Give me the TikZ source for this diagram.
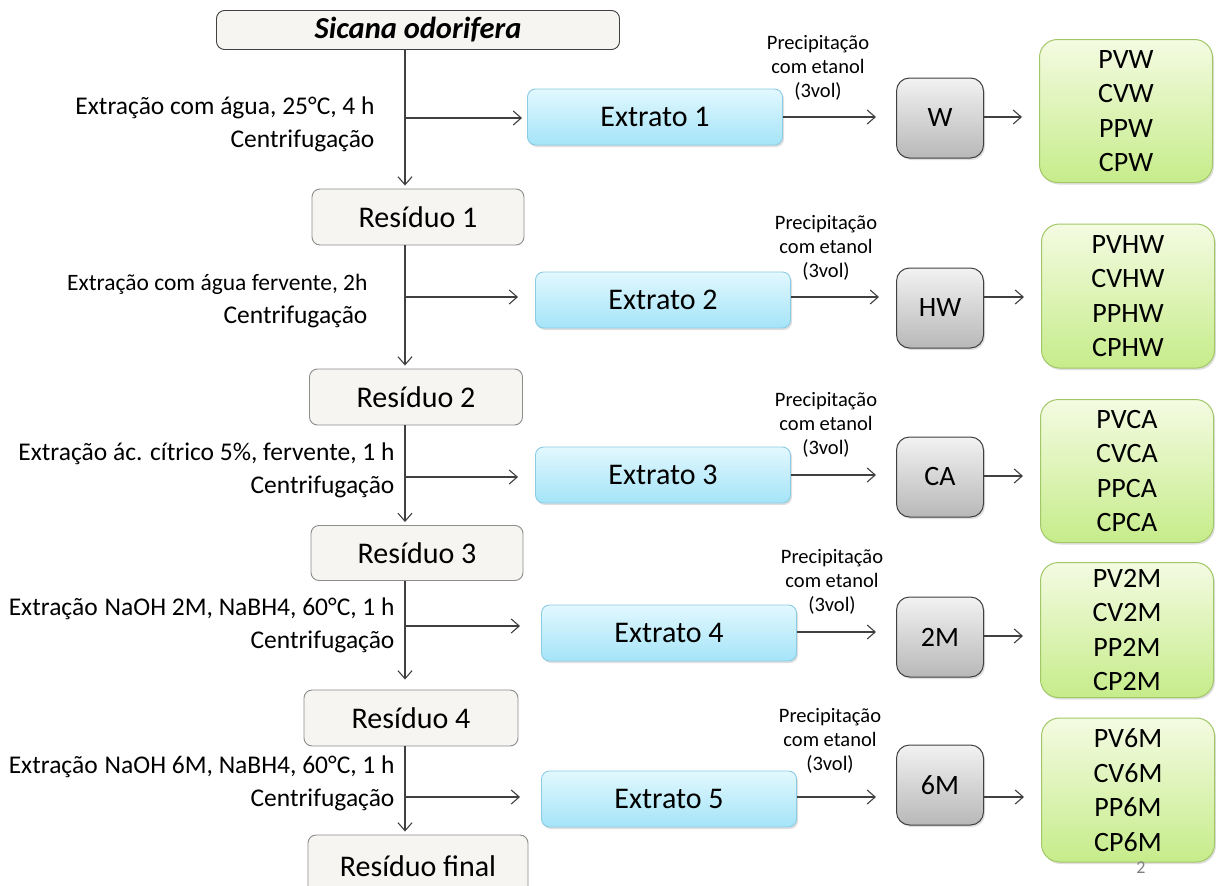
\documentclass[tikz,border=0pt]{standalone}
\usepackage{fontspec}
\setmainfont{Carlito}
\usepackage{tikz}
\usetikzlibrary{arrows.meta,shadows}

\definecolor{linha}{HTML}{404040}
\definecolor{fundores}{HTML}{F6F5F1}
\definecolor{bordares}{HTML}{8C8C8C}
\definecolor{azulcima}{HTML}{E2F8FE}
\definecolor{azulbaixo}{HTML}{A4E4F8}
\definecolor{azulborda}{HTML}{8CCBE4}
\definecolor{cinzacima}{HTML}{F2F2F2}
\definecolor{cinzabaixo}{HTML}{B8B8B8}
\definecolor{verdecima}{HTML}{F4FBE2}
\definecolor{verdebaixo}{HTML}{C6EC8A}
\definecolor{verdeborda}{HTML}{A2C766}

\begin{document}
\begin{tikzpicture}[x=1pt, y=-1pt, line width=1.1pt]
\tikzstyle{every node}=[inner sep=0pt, text=black]
\tikzstyle{seta}=[draw=linha, -{Straight Barb[length=8pt,width=14pt]}]
\tikzstyle{sombra}=[drop shadow={shadow xshift=1.5pt, shadow yshift=-2pt, opacity=.25}]
\tikzstyle{residuo}=[draw=bordares, fill=fundores, rounded corners=8pt, line width=.9pt, font=\fontsize{30}{36}\selectfont]
\tikzstyle{extrato}=[sombra, draw=azulborda, top color=azulcima, bottom color=azulbaixo, rounded corners=8pt, line width=.9pt, minimum width=255pt, minimum height=56pt, font=\fontsize{30}{36}\selectfont]
\tikzstyle{fracao}=[sombra, draw=linha, top color=cinzacima, bottom color=cinzabaixo, rounded corners=13pt, line width=1pt, minimum width=87pt, minimum height=80pt, font=\fontsize{28}{30}\selectfont]
\tikzstyle{grupo}=[sombra, draw=verdeborda, top color=verdecima, bottom color=verdebaixo, rounded corners=18pt, line width=1pt, minimum width=173pt, align=center, font=\fontsize{28}{34.5}\selectfont]
\tikzstyle{cond}=[anchor=east, align=right, font=\fontsize{25.5}{33}\selectfont]
\tikzstyle{precip}=[align=center, font=\fontsize{20.5}{24}\selectfont]

\useasboundingbox (0,0) rectangle (1216,886);
\clip (0,0) rectangle (1216,886);

% coluna dos residuos
\node[residuo, draw=linha, minimum width=403pt, minimum height=39pt, font=\fontsize{30.5}{36}\selectfont\bfseries\itshape] (sicana) at (418,30) {Sicana odorifera};
\node[residuo, minimum width=212pt, minimum height=56pt] (res1) at (418,217) {Resíduo 1};
\node[residuo, minimum width=213pt, minimum height=56pt] (res2) at (416,397) {Resíduo 2};
\node[residuo, minimum width=212pt, minimum height=55pt] (res3) at (417,553) {Resíduo 3};
\node[residuo, minimum width=214pt, minimum height=56pt] (res4) at (411,718) {Resíduo 4};
\node[residuo, minimum width=220pt, minimum height=62pt] (resf) at (418,866) {Resíduo final};

\coordinate (b1) at (405,118);
\coordinate (b2) at (405,297);
\coordinate (b3) at (405,477);
\coordinate (b4) at (405,626);
\coordinate (b5) at (405,797);

\draw[seta] (sicana.south -| b1) -- ([yshift=3pt]res1.north -| b1);
\draw[seta] (res1.south -| b2) -- ([yshift=3pt]res2.north -| b2);
\draw[seta] (res2.south -| b3) -- ([yshift=3pt]res3.north -| b3);
\draw[seta] (res3.south -| b4) -- ([yshift=10pt]res4.north -| b4);
\draw[seta] (res4.south -| b5) -- ([yshift=3pt]resf.north -| b5);

% condicoes de extracao
\node[cond] (c1) at (375,124.5) {Extração com água, 25°C, 4 h\\Centrifugação};
\node[cond] (c2) at (368,301.5) {{\fontsize{23.5}{33}\selectfont Extração com água fervente, 2h}\\Centrifugação};
\node[cond] (c3) at (395,470) {Extração ác. cítrico 5\%, fervente, 1 h\\Centrifugação};
\node[cond] (c4) at (395,625.5) {Extração\hspace{7pt}NaOH 2M, NaBH4, 60°C, 1 h\\Centrifugação};
\node[cond] (c5) at (395,783.5) {Extração\hspace{7pt}NaOH 6M, NaBH4, 60°C, 1 h\\Centrifugação};

% extratos
\node[extrato] (ext1) at (655,117) {Extrato 1};
\node[extrato] (ext2) at (663,300) {Extrato 2};
\node[extrato] (ext3) at (663,475) {Extrato 3};
\node[extrato] (ext4) at (669,633) {Extrato 4};
\node[extrato] (ext5) at (669,799) {Extrato 5};

\draw[seta, shorten >=5pt] (b1) -- (b1 -| ext1.west);
\draw[seta, shorten >=17pt] (b2) -- (b2 -| ext2.west);
\draw[seta, shorten >=17pt] (b3) -- (b3 -| ext3.west);
\draw[seta, shorten >=21pt] (b4) -- (b4 -| ext4.west);
\draw[seta, shorten >=21pt] (b5) -- (b5 -| ext5.west);

% fracoes precipitadas
\node[fracao] (W) at (940,118) {W};
\node[fracao] (HW) at (940,308) {HW};
\node[fracao] (CA) at (940,477) {CA};
\node[fracao] (2M) at (940,637) {2M};
\node[fracao] (6M) at (940,785) {6M};

\node[precip] (p1) at (818,68) {Precipitação\\com etanol\\(3vol)};
\node[precip] (p2) at (826,248) {Precipitação\\com etanol\\(3vol)};
\node[precip] (p3) at (826,425) {Precipitação\\com etanol\\(3vol)};
\node[precip] (p4) at (832,582) {Precipitação\\com etanol\\(3vol)};
\node[precip] (p5) at (830,741) {Precipitação\\com etanol\\(3vol)};

\draw[seta, shorten >=20pt] (ext1.east) -- (ext1.east -| W.west);
\draw[seta, shorten >=17pt] ([yshift=3pt]ext2.east) -- ([yshift=3pt]ext2.east -| HW.west);
\draw[seta, shorten >=20pt] (ext3.east) -- (ext3.east -| CA.west);
\draw[seta, shorten >=20pt] ([yshift=1pt]ext4.east) -- ([yshift=1pt]ext4.east -| 2M.west);
\draw[seta, shorten >=20pt] ([yshift=2pt]ext5.east) -- ([yshift=2pt]ext5.east -| 6M.west);

% grupos finais
\node[grupo, minimum height=143pt] (gW) at (1126,111) {PVW\\CVW\\PPW\\CPW};
\node[grupo, minimum height=144pt] (gHW) at (1128,296) {PVHW\\CVHW\\PPHW\\CPHW};
\node[grupo, minimum height=143pt] (gCA) at (1127,471) {PVCA\\CVCA\\PPCA\\CPCA};
\node[grupo, minimum height=135pt] (g2M) at (1127,630) {PV2M\\CV2M\\PP2M\\CP2M};
\node[grupo, minimum height=144pt] (g6M) at (1128,790) {PV6M\\CV6M\\PP6M\\CP6M};

\draw[seta, shorten >=17pt] ([yshift=1pt]W.east) -- ([yshift=1pt]W.east -| gW.west);
\draw[seta, shorten >=17pt] ([yshift=11pt]HW.east) -- ([yshift=11pt]HW.east -| gHW.west);
\draw[seta, shorten >=17pt] ([yshift=1pt]CA.east) -- ([yshift=1pt]CA.east -| gCA.west);
\draw[seta, shorten >=17pt] ([yshift=1pt]2M.east) -- ([yshift=1pt]2M.east -| g2M.west);
\draw[seta, shorten >=17pt] ([yshift=-12pt]6M.east) -- ([yshift=-12pt]6M.east -| g6M.west);

\node[text=gray, font=\fontsize{18}{20}\selectfont] (pag) at (1141,868) {2};
\end{tikzpicture}
\end{document}
